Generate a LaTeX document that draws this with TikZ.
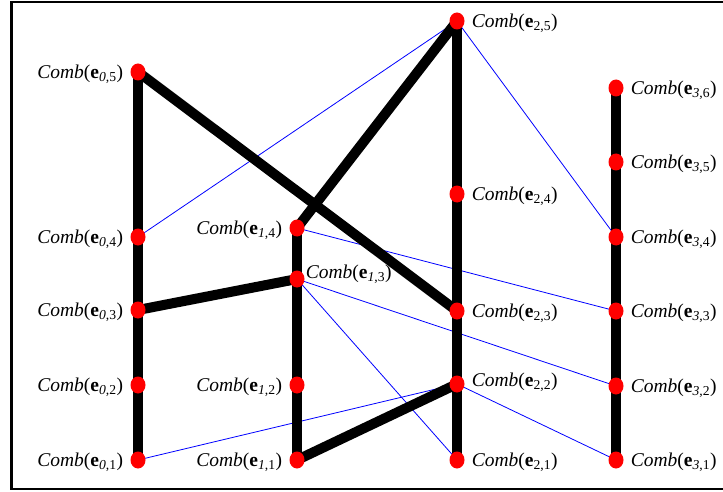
\documentclass[tikz,border=0pt]{standalone}
\usepackage{fontspec}
\setmainfont{Liberation Serif}
\usetikzlibrary{shapes.geometric,backgrounds,positioning}

\tikzset{
  dot/.style={ellipse, fill=red, minimum width=15pt, minimum height=17pt, inner sep=0pt},
  lbl/.style={font=\fontsize{19.5}{21}\selectfont, inner sep=0pt, label distance=7pt, yshift=-2pt},
  chain/.style={line width=10pt},
  link/.style={blue, line width=0.8pt},
}
\newcommand{\comb}[2]{\textit{Comb}(\textbf{e}\textsubscript{#1,#2})}

\begin{document}
\begin{tikzpicture}[x=1pt,y=-1pt]
    \useasboundingbox (0,0) rectangle (723,492);
    \draw[line width=2.6pt] (11.5,2) rectangle (740,489);

    % column 0
    \node[dot, label={[lbl]left:\comb{\textit{0}}{5}}] (e05) at (138,72) {};
    \node[dot, label={[lbl]left:\comb{\textit{0}}{4}}] (e04) at (138,237) {};
    \node[dot, label={[lbl]left:\comb{\textit{0}}{3}}] (e03) at (138,310) {};
    \node[dot, label={[lbl]left:\comb{\textit{0}}{2}}] (e02) at (138,385) {};
    \node[dot, label={[lbl]left:\comb{\textit{0}}{1}}] (e01) at (138,460) {};
    % column 1
    \node[dot, label={[lbl]left:\comb{\textit{1}}{4}}] (e14) at (297,228) {};
    \node[dot, label={[lbl,label distance=1pt,yshift=7pt]right:\comb{\textit{1}}{3}}] (e13) at (297,279) {};
    \node[dot, label={[lbl]left:\comb{\textit{1}}{2}}] (e12) at (297,385) {};
    \node[dot, label={[lbl]left:\comb{\textit{1}}{1}}] (e11) at (297,460) {};
    % column 2
    \node[dot, label={[lbl]right:\comb{2}{5}}] (e25) at (457,21) {};
    \node[dot, label={[lbl]right:\comb{2}{4}}] (e24) at (457,194) {};
    \node[dot, label={[lbl]right:\comb{2}{3}}] (e23) at (457,311) {};
    \node[dot, label={[lbl,yshift=4pt]right:\comb{2}{2}}] (e22) at (457,384) {};
    \node[dot, label={[lbl]right:\comb{2}{1}}] (e21) at (457,460) {};
    % column 3
    \node[dot, label={[lbl]right:\comb{\textit{3}}{6}}] (e36) at (616,88) {};
    \node[dot, label={[lbl]right:\comb{\textit{3}}{5}}] (e35) at (616,162) {};
    \node[dot, label={[lbl]right:\comb{\textit{3}}{4}}] (e34) at (616,237) {};
    \node[dot, label={[lbl]right:\comb{\textit{3}}{3}}] (e33) at (616,311) {};
    \node[dot, label={[lbl]right:\comb{\textit{3}}{2}}] (e32) at (616,386) {};
    \node[dot, label={[lbl]right:\comb{\textit{3}}{1}}] (e31) at (616,460) {};

    \begin{scope}[on background layer]
        % thin links
        \draw[link] (e04.center) -- (e25.center);
        \draw[link] (e25.center) -- (e34.center);
        \draw[link] (e14.center) -- (e33.center);
        \draw[link] (e13.center) -- (e32.center);
        \draw[link] (e13.center) -- (e21.center);
        \draw[link] (e01.center) -- (e22.center);
        \draw[link] (e22.center) -- (e31.center);
        % thick chains
        \draw[chain] (e05.center) -- (e01.center);
        \draw[chain] (e14.center) -- (e11.center);
        \draw[chain] (e25.center) -- (e21.center);
        \draw[chain] (e36.center) -- (e31.center);
        \draw[chain] (e05.center) -- (e23.center);
        \draw[chain] (e03.center) -- (e13.center);
        \draw[chain] (e14.center) -- (e25.center);
        \draw[chain] (e11.center) -- (e22.center);
    \end{scope}
\end{tikzpicture}
\end{document}
